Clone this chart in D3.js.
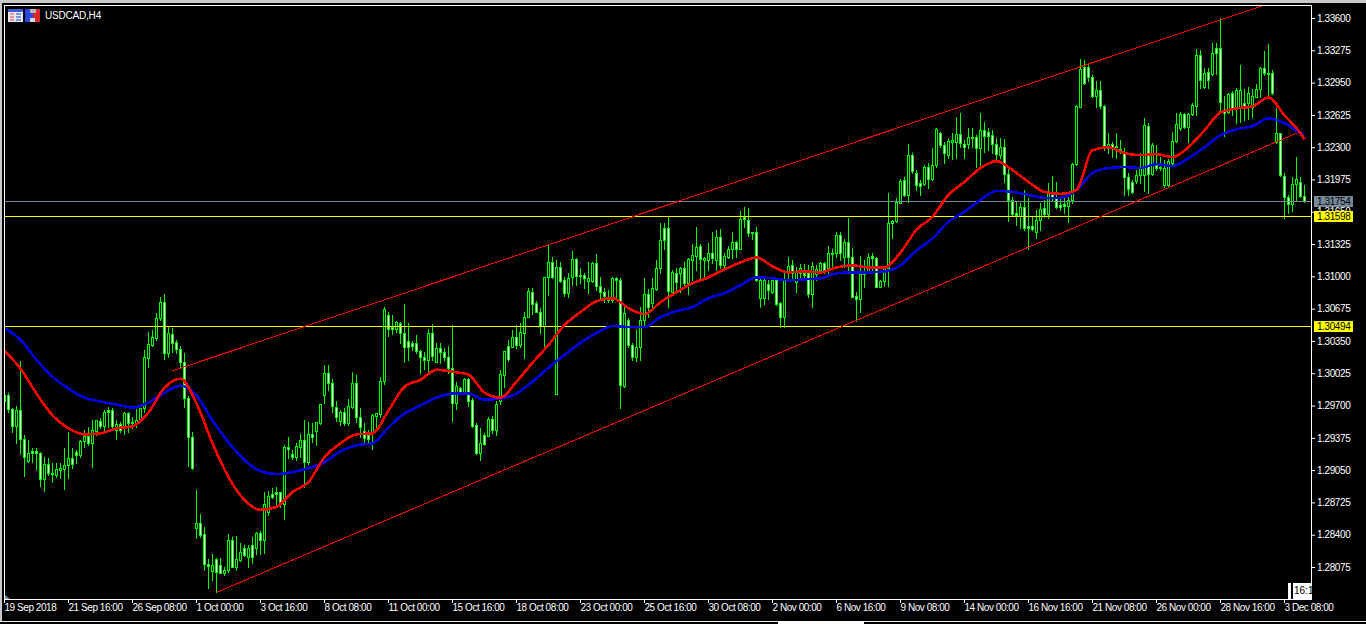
<!DOCTYPE html>
<html>
<head>
<meta charset="utf-8">
<title>USDCAD,H4</title>
<script src="https://cdn.jsdelivr.net/npm/d3@7"></script>
<style>
html, body { margin: 0; padding: 0; background: #000; overflow: hidden; }
svg { display: block; }
text { font-family: "Liberation Sans", sans-serif; }
</style>
</head>
<body>
<div id="chart"></div>
<script>
// USDCAD H4 candles, 19 Sep 2018 - 3 Dec 2018. Prices, in pips (1/10000)
const candleHigh = [
12982,12983,12968,12970,13015,12940,12935,12927,12927,12923,
12918,12917,12912,12912,12912,12927,12943,12927,12925,12935,
12945,12948,12955,12955,12957,12965,12969,12968,12955,12953,
12963,12963,12958,12967,12968,13026,13044,13046,13063,13079,
13082,13049,13048,13036,13030,13023,12980,12943,12885,12861,
12848,12816,12821,12817,12817,12807,12841,12838,12839,12832,
12830,12830,12838,12843,12844,12883,12884,12887,12888,12883,
12930,12938,12925,12932,12941,12955,12953,12952,12953,12972,
13011,13011,12997,12975,12965,12968,12977,13004,13001,12968,
12952,12945,12961,12962,12999,13069,13064,13061,13055,13054,
13072,13053,13035,13041,13026,13024,13047,13052,13033,13033,
13028,13030,13051,12994,12989,12998,12998,12978,12952,12947,
12942,12958,12959,12975,13006,13025,13036,13046,13051,13053,
13064,13088,13088,13075,13068,13099,13132,13119,13116,13114,
13099,13103,13126,13118,13108,13103,13114,13114,13122,13099,
13088,13086,13099,13099,13098,13069,13058,13033,13046,13069,
13098,13087,13098,13116,13154,13154,13160,13106,13108,13109,
13114,13118,13133,13150,13133,13119,13134,13145,13147,13148,
13124,13131,13145,13136,13166,13170,13169,13145,13150,13098,
13098,13096,13098,13098,13074,13103,13119,13116,13109,13112,
13112,13111,13114,13111,13114,13114,13131,13128,13145,13145,
13138,13159,13129,13084,13120,13116,13124,13123,13119,13096,
13109,13184,13157,13179,13198,13200,13233,13224,13207,13197,
13212,13214,13229,13249,13245,13235,13239,13244,13260,13264,
13237,13249,13249,13242,13264,13255,13249,13247,13239,13239,
13238,13208,13180,13175,13174,13187,13179,13160,13167,13174,
13177,13194,13201,13195,13180,13180,13185,13214,13272,13319,
13318,13313,13303,13297,13297,13272,13244,13235,13244,13237,
13229,13204,13197,13207,13224,13259,13254,13234,13232,13220,
13217,13218,13245,13264,13265,13264,13264,13274,13329,13328,
13310,13310,13335,13335,13360,13282,13285,13287,13290,13313,
13289,13291,13289,13294,13311,13327,13334,13308,13269,13244,
13204,13182,13200,13220,13200,13192];

const candleLow = [
12971,12963,12943,12932,12922,12899,12913,12913,12906,12889,
12884,12900,12893,12898,12897,12886,12897,12907,12912,12918,
12928,12930,12908,12940,12947,12945,12948,12947,12936,12943,
12941,12943,12947,12948,12953,12963,13009,13030,13036,13056,
13017,13019,13024,13023,13009,12969,12909,12906,12837,12838,
12804,12786,12794,12782,12801,12799,12802,12807,12804,12814,
12819,12807,12812,12821,12821,12822,12860,12877,12869,12868,
12856,12917,12916,12915,12918,12888,12911,12933,12930,12951,
12973,12986,12963,12954,12950,12950,12950,12968,12953,12938,
12933,12933,12926,12948,12958,12992,13040,13042,13044,13033,
13014,13016,13026,13023,13003,13007,13003,13016,13014,13013,
13016,13003,12954,12967,12982,12982,12970,12948,12921,12915,
12930,12939,12942,12940,12972,12989,13015,13029,13028,13029,
13018,13059,13062,13064,13043,13028,13081,13098,12982,13094,
13080,13079,13091,13091,13093,13088,13083,13094,13086,13078,
13074,13074,13074,13079,12968,12989,13029,13016,13015,13016,
13051,13059,13066,13086,13103,13128,13069,13083,13084,13084,
13089,13082,13096,13106,13098,13099,13106,13113,13106,13108,
13106,13118,13118,13119,13128,13150,13141,13138,13095,13069,
13072,13077,13083,13071,13049,13049,13096,13096,13084,13098,
13098,13079,13069,13096,13103,13103,13103,13109,13119,13116,
13109,13106,13079,13055,13064,13089,13103,13103,13089,13089,
13090,13090,13139,13155,13174,13181,13175,13204,13187,13182,
13192,13189,13197,13210,13230,13214,13219,13218,13219,13230,
13219,13229,13230,13210,13210,13225,13227,13224,13217,13219,
13195,13156,13162,13152,13149,13147,13128,13147,13139,13147,
13160,13159,13177,13169,13167,13164,13155,13174,13212,13270,
13294,13297,13280,13270,13269,13227,13224,13220,13219,13224,
13182,13182,13184,13194,13194,13186,13184,13202,13207,13207,
13190,13191,13212,13235,13247,13249,13235,13262,13262,13290,
13290,13290,13303,13304,13265,13241,13264,13262,13254,13255,
13257,13258,13260,13280,13280,13303,13280,13284,13234,13201,
13159,13164,13166,13177,13180,13175];

const candleOpen = [
12975,12981,12967,12949,12966,12936,12914,12924,12924,12922,
12896,12911,12902,12900,12905,12906,12910,12917,12923,12920,
12934,12939,12932,12944,12954,12949,12966,12966,12945,12951,
12949,12962,12952,12952,12955,12968,13018,13031,13038,13058,
13074,13023,13042,13034,13027,13014,12978,12938,12847,12852,
12841,12811,12803,12816,12810,12801,12804,12835,12808,12815,
12827,12818,12830,12827,12842,12835,12863,12881,12883,12883,
12871,12928,12921,12918,12928,12935,12913,12941,12944,12952,
12981,13003,12993,12969,12954,12963,12952,12969,12993,12958,
12944,12940,12942,12959,12961,12995,13061,13049,13047,13053,
13043,13035,13033,13033,13025,13019,13016,13043,13014,13028,
13024,13019,13008,12973,12988,12983,12997,12976,12950,12922,
12940,12939,12956,12945,12975,13001,13030,13029,13039,13031,
13043,13059,13084,13073,13064,13050,13099,13114,12982,13109,
13096,13083,13099,13117,13100,13101,13095,13095,13113,13090,
13084,13079,13076,13098,13096,12990,13056,13031,13019,13029,
13056,13082,13073,13087,13108,13149,13149,13084,13103,13103,
13108,13093,13116,13120,13131,13116,13116,13124,13116,13140,
13111,13119,13128,13135,13128,13160,13157,13144,13145,13078,
13078,13092,13084,13096,13073,13059,13105,13111,13094,13103,
13103,13103,13082,13102,13106,13113,13108,13123,13123,13142,
13119,13135,13119,13080,13077,13103,13104,13120,13118,13089,
13095,13108,13154,13156,13174,13197,13182,13222,13204,13194,
13193,13210,13198,13212,13244,13232,13222,13235,13235,13243,
13233,13233,13240,13240,13229,13247,13245,13242,13233,13222,
13230,13203,13177,13164,13161,13170,13151,13151,13145,13157,
13169,13163,13184,13180,13172,13173,13171,13177,13213,13270,
13311,13311,13301,13282,13288,13271,13230,13233,13231,13225,
13225,13200,13195,13196,13202,13202,13251,13203,13212,13210,
13192,13192,13214,13236,13249,13263,13250,13263,13271,13323,
13291,13306,13304,13330,13330,13267,13265,13285,13268,13270,
13274,13274,13270,13280,13289,13310,13305,13305,13235,13244,
13201,13180,13173,13193,13195,13181];

const candleClose = [
12981,12967,12949,12966,12936,12918,12922,12922,12922,12896,
12911,12902,12901,12906,12907,12910,12917,12911,12920,12934,
12939,12932,12945,12955,12949,12963,12963,12949,12951,12945,
12962,12952,12953,12955,12968,13019,13032,13039,13058,13074,
13023,13043,13033,13027,13014,12978,12938,12907,12852,12840,
12811,12809,12810,12802,12801,12804,12835,12808,12816,12823,
12820,12827,12818,12842,12835,12871,12879,12878,12881,12871,
12928,12926,12918,12929,12935,12913,12941,12938,12953,12972,
13003,12993,12970,12958,12963,12952,12970,12993,12958,12948,
12937,12936,12960,12962,12995,13067,13047,13047,13054,13043,
13029,13029,13030,13025,13019,13016,13043,13020,13028,13024,
13019,13008,12973,12990,12983,12997,12975,12949,12922,12932,
12931,12956,12945,12972,13002,13025,13017,13039,13031,13044,
13059,13085,13072,13064,13050,13099,13114,13099,13109,13095,
13083,13098,13117,13100,13101,13098,13098,13113,13090,13084,
13080,13076,13098,13096,12991,13063,13031,13019,13029,13056,
13082,13069,13088,13108,13137,13137,13085,13104,13094,13108,
13093,13117,13121,13130,13117,13118,13124,13118,13140,13111,
13120,13128,13135,13128,13158,13158,13144,13145,13096,13096,
13096,13086,13096,13072,13059,13096,13110,13103,13104,13108,
13101,13082,13110,13107,13113,13106,13123,13123,13142,13123,
13135,13119,13079,13077,13102,13102,13119,13118,13089,13095,
13108,13154,13156,13175,13196,13182,13222,13206,13192,13191,
13210,13198,13212,13248,13232,13224,13236,13237,13243,13234,
13230,13240,13239,13229,13247,13241,13241,13233,13223,13230,
13203,13177,13163,13162,13170,13149,13149,13148,13157,13168,
13163,13184,13180,13170,13170,13171,13177,13213,13271,13309,
13295,13301,13282,13288,13271,13230,13233,13230,13230,13228,
13200,13188,13185,13202,13210,13252,13203,13232,13209,13209,
13209,13216,13236,13253,13263,13250,13263,13272,13323,13298,
13305,13298,13325,13325,13275,13264,13284,13268,13288,13288,
13270,13285,13281,13289,13310,13305,13304,13285,13244,13202,
13180,13173,13193,13198,13181,13176];

// moving averages, one reading every 4th bar (last one is the final bar)
const redMa = [
13025,13007,12982,12960,12947,12941,12942,12947,12949,12963,
12988,12997,12972,12932,12898,12875,12865,12868,12883,12893,
12918,12932,12941,12942,12965,12989,12996,13006,13004,13001,
12983,12978,12994,13013,13031,13051,13064,13075,13078,13068,
13062,13074,13084,13093,13099,13107,13114,13119,13110,13104,
13105,13104,13109,13111,13109,13109,13124,13147,13160,13182,
13195,13209,13216,13207,13195,13185,13183,13187,13227,13230,
13224,13222,13223,13220,13230,13247,13265,13269,13271,13280,
13262,13244,13238];

const blueMa = [
13048,13036,13016,12999,12987,12978,12974,12971,12968,12973,
12983,12990,12980,12955,12933,12915,12904,12901,12903,12907,
12913,12924,12930,12932,12948,12962,12970,12978,12982,12982,
12976,12977,12982,12994,13008,13021,13033,13043,13050,13049,
13049,13059,13065,13069,13078,13083,13091,13099,13098,13096,
13097,13098,13103,13104,13104,13105,13111,13126,13138,13155,
13165,13177,13186,13185,13182,13179,13179,13187,13204,13209,
13210,13209,13213,13211,13219,13230,13242,13248,13251,13259,
13254,13244,13242];

const priceTicks = [1.336, 1.33275, 1.3295, 1.32625, 1.323, 1.31975, 1.3165, 1.31325, 1.31, 1.30675,
    1.3035, 1.30025, 1.297, 1.29375, 1.2905, 1.28725, 1.284, 1.28075];

const timeLabels = ['19 Sep 2018', '21 Sep 16:00', '26 Sep 08:00', '1 Oct 00:00', '3 Oct 16:00', '8 Oct 08:00',
    '11 Oct 00:00', '15 Oct 16:00', '18 Oct 08:00', '23 Oct 00:00', '25 Oct 16:00', '30 Oct 08:00',
    '2 Nov 00:00', '6 Nov 16:00', '9 Nov 08:00', '14 Nov 00:00', '16 Nov 16:00', '21 Nov 08:00',
    '26 Nov 00:00', '28 Nov 16:00', '3 Dec 08:00'];

const yellowLevels = [1.31598, 1.30494];
const bidPrice = 1.31754;

// channel lines: [bar, pips] at both ends
const upperChannel = [[42, 13005], [315, 13373]];
const lowerChannel = [[53, 12782], [323, 13244]];

const width = 1366;
const height = 624;
const plot = { left: 5, right: 1311, top: 6, bottom: 599 };
const labelFont = '10px';

const svg = d3.select('#chart').append('svg')
    .attr('width', width)
    .attr('height', height);

svg.append('rect').attr('width', width).attr('height', height).attr('fill', '#000');

// Scales
const xScale = d3.scaleLinear().domain([0, candleHigh.length - 1]).range([4, 1304]);
const yScale = d3.scaleLinear().domain([1.336, 1.28075]).range([18, 567]);
const yPip = p => Math.round(yScale(p / 10000));
const snap = v => Math.floor(v) + 0.5;

svg.append('defs').append('clipPath').attr('id', 'plot-clip')
    .append('rect')
    .attr('x', plot.left)
    .attr('y', plot.top)
    .attr('width', plot.right - plot.left)
    .attr('height', plot.bottom - plot.top);

const g = svg.append('g').attr('clip-path', 'url(#plot-clip)');

// Candles
const green = '#00ff00';
const bars = d3.range(candleHigh.length);

g.append('g').selectAll('line')
    .data(bars)
    .enter()
    .append('line')
    .attr('x1', d => xScale(d) + 0.5)
    .attr('x2', d => xScale(d) + 0.5)
    .attr('y1', d => yPip(candleHigh[d]))
    .attr('y2', d => yPip(candleLow[d]) + 1)
    .attr('stroke', green)
    .attr('shape-rendering', 'crispEdges');

g.append('g').selectAll('rect')
    .data(bars)
    .enter()
    .append('rect')
    .attr('x', d => xScale(d) - 0.5)
    .attr('y', d => yPip(Math.max(candleOpen[d], candleClose[d])) + 0.5)
    .attr('width', 2)
    .attr('height', d => Math.max(1, yPip(Math.min(candleOpen[d], candleClose[d])) - yPip(Math.max(candleOpen[d], candleClose[d]))))
    .attr('fill', d => candleClose[d] < candleOpen[d] ? '#fff' : '#000')
    .attr('stroke', green)
    .attr('shape-rendering', 'crispEdges');

// Horizontal levels
yellowLevels.forEach(level => {
    g.append('line')
        .attr('x1', plot.left).attr('x2', plot.right)
        .attr('y1', snap(yScale(level))).attr('y2', snap(yScale(level)))
        .attr('stroke', '#ffff00');
});

g.append('line')
    .attr('x1', plot.left).attr('x2', plot.right)
    .attr('y1', snap(yScale(bidPrice))).attr('y2', snap(yScale(bidPrice)))
    .attr('stroke', '#778899');

// Channel lines
[upperChannel, lowerChannel].forEach(ch => {
    g.append('line')
        .attr('x1', xScale(ch[0][0]) + 0.5)
        .attr('y1', yScale(ch[0][1] / 10000))
        .attr('x2', xScale(ch[1][0]) + 0.5)
        .attr('y2', yScale(ch[1][1] / 10000))
        .attr('stroke', '#ff0000')
        .attr('shape-rendering', 'crispEdges');
});

// Moving averages
const maBar = k => Math.min(k * 4, candleHigh.length - 1);
const maLine = d3.line()
    .x((d, k) => xScale(maBar(k)) + 0.5)
    .y(d => yScale(d / 10000))
    .curve(d3.curveMonotoneX);

g.append('path').datum(blueMa)
    .attr('d', maLine)
    .attr('fill', 'none')
    .attr('stroke', '#0000e6')
    .attr('stroke-width', 2.6)
    .attr('shape-rendering', 'crispEdges');

g.append('path').datum(redMa)
    .attr('d', maLine)
    .attr('fill', 'none')
    .attr('stroke', '#ff0000')
    .attr('stroke-width', 2.6)
    .attr('shape-rendering', 'crispEdges');

// Axes
const yAxis = d3.axisRight(yScale)
    .tickValues(priceTicks)
    .tickSize(4)
    .tickPadding(2)
    .tickFormat(d3.format('.5f'));

const yAxisG = svg.append('g')
    .attr('transform', `translate(${plot.right},0)`)
    .call(yAxis);
yAxisG.select('.domain').remove();
yAxisG.selectAll('line').attr('stroke', '#fff');
yAxisG.selectAll('text')
    .attr('fill', '#fff')
    .style('font-size', labelFont)
    .style('letter-spacing', '-0.4px');

const xAxis = d3.axisBottom(xScale)
    .tickValues(d3.range(0, timeLabels.length).map(k => k * 16))
    .tickSize(4)
    .tickPadding(1)
    .tickFormat((d, k) => timeLabels[k]);

const xAxisG = svg.append('g')
    .attr('transform', `translate(0,${plot.bottom})`)
    .call(xAxis);
xAxisG.select('.domain').remove();
xAxisG.selectAll('line').attr('stroke', '#fff');
xAxisG.selectAll('text')
    .attr('fill', '#fff')
    .attr('text-anchor', 'start')
    .style('font-size', labelFont)
    .style('letter-spacing', '-0.45px');

// Plot frame
const frame = svg.append('g').attr('stroke', '#fff').attr('shape-rendering', 'crispEdges');
frame.append('line').attr('x1', 4.5).attr('x2', 4.5).attr('y1', 5).attr('y2', plot.bottom + 4);
frame.append('line').attr('x1', 4).attr('x2', plot.right + 1).attr('y1', 5.5).attr('y2', 5.5);
frame.append('line').attr('x1', plot.right + 0.5).attr('x2', plot.right + 0.5).attr('y1', 5).attr('y2', plot.bottom + 1);
frame.append('line').attr('x1', 4).attr('x2', plot.right + 1).attr('y1', plot.bottom + 0.5).attr('y2', plot.bottom + 0.5);

// Price tags
const tags = [
    { price: bidPrice, fill: '#778899' },
    { price: yellowLevels[1], fill: '#ffff00' },
    { price: yellowLevels[0], fill: '#ffff00' }
];
tags.forEach(t => {
    const ty = Math.floor(yScale(t.price));
    svg.append('rect')
        .attr('x', 1314).attr('y', ty - 5)
        .attr('width', 39).attr('height', 11)
        .attr('fill', t.fill);
    svg.append('text')
        .attr('x', 1317).attr('y', ty + 4)
        .attr('fill', '#000')
        .style('font-size', labelFont)
        .style('letter-spacing', '-0.4px')
        .text(t.price.toFixed(5));
});

// Title and window icons
svg.append('text')
    .attr('x', 45).attr('y', 19)
    .attr('fill', '#fff')
    .style('font-size', labelFont)
    .style('letter-spacing', '-0.2px')
    .text('USDCAD,H4');

const icon = svg.append('g').attr('shape-rendering', 'crispEdges');
icon.append('rect').attr('x', 8).attr('y', 9).attr('width', 15).attr('height', 13).attr('fill', '#e4e8f4');
icon.append('rect').attr('x', 8).attr('y', 9).attr('width', 15).attr('height', 3).attr('fill', '#3c5cd0');
d3.range(3).forEach(r => {
    icon.append('rect').attr('x', 10).attr('y', 13 + r * 3).attr('width', 4).attr('height', 2).attr('fill', '#f09090');
    icon.append('rect').attr('x', 16).attr('y', 13 + r * 3).attr('width', 5).attr('height', 2).attr('fill', '#8098e0');
});
icon.append('rect').attr('x', 25).attr('y', 9).attr('width', 8).attr('height', 13).attr('fill', '#2848e0');
icon.append('rect').attr('x', 33).attr('y', 9).attr('width', 7).attr('height', 13).attr('fill', '#d82828');
icon.append('rect').attr('x', 30).attr('y', 9).attr('width', 6).attr('height', 4).attr('fill', '#b8b8b8');
icon.append('rect').attr('x', 30).attr('y', 18).attr('width', 5).attr('height', 4).attr('fill', '#d8d8d8');

// Small grey corner marker
svg.append('path')
    .attr('d', 'M5,595 L10,599 L5,599 Z')
    .attr('fill', '#778899');

// Bar countdown box
const countdown = svg.append('g').attr('shape-rendering', 'crispEdges');
countdown.append('rect').attr('x', 1288).attr('y', 583).attr('width', 3).attr('height', 16).attr('fill', '#fff');
countdown.append('rect').attr('x', 1293).attr('y', 583).attr('width', 18).attr('height', 16).attr('fill', '#fff');
countdown.append('text')
    .attr('x', 1294).attr('y', 594)
    .attr('fill', '#000')
    .style('font-size', labelFont)
    .text('16:1');

// Window chrome
const chrome = svg.append('g').attr('shape-rendering', 'crispEdges');
chrome.append('rect').attr('width', width).attr('height', 3).attr('fill', '#c8c8c8');
chrome.append('rect').attr('width', 2).attr('height', 622).attr('fill', '#c8c8c8');
chrome.append('rect').attr('y', 621).attr('width', width).attr('height', 1).attr('fill', '#f0f0f0');
chrome.append('rect').attr('x', 778).attr('y', 621).attr('width', 86).attr('height', 3).attr('fill', '#fff');
</script>
</body>
</html>
